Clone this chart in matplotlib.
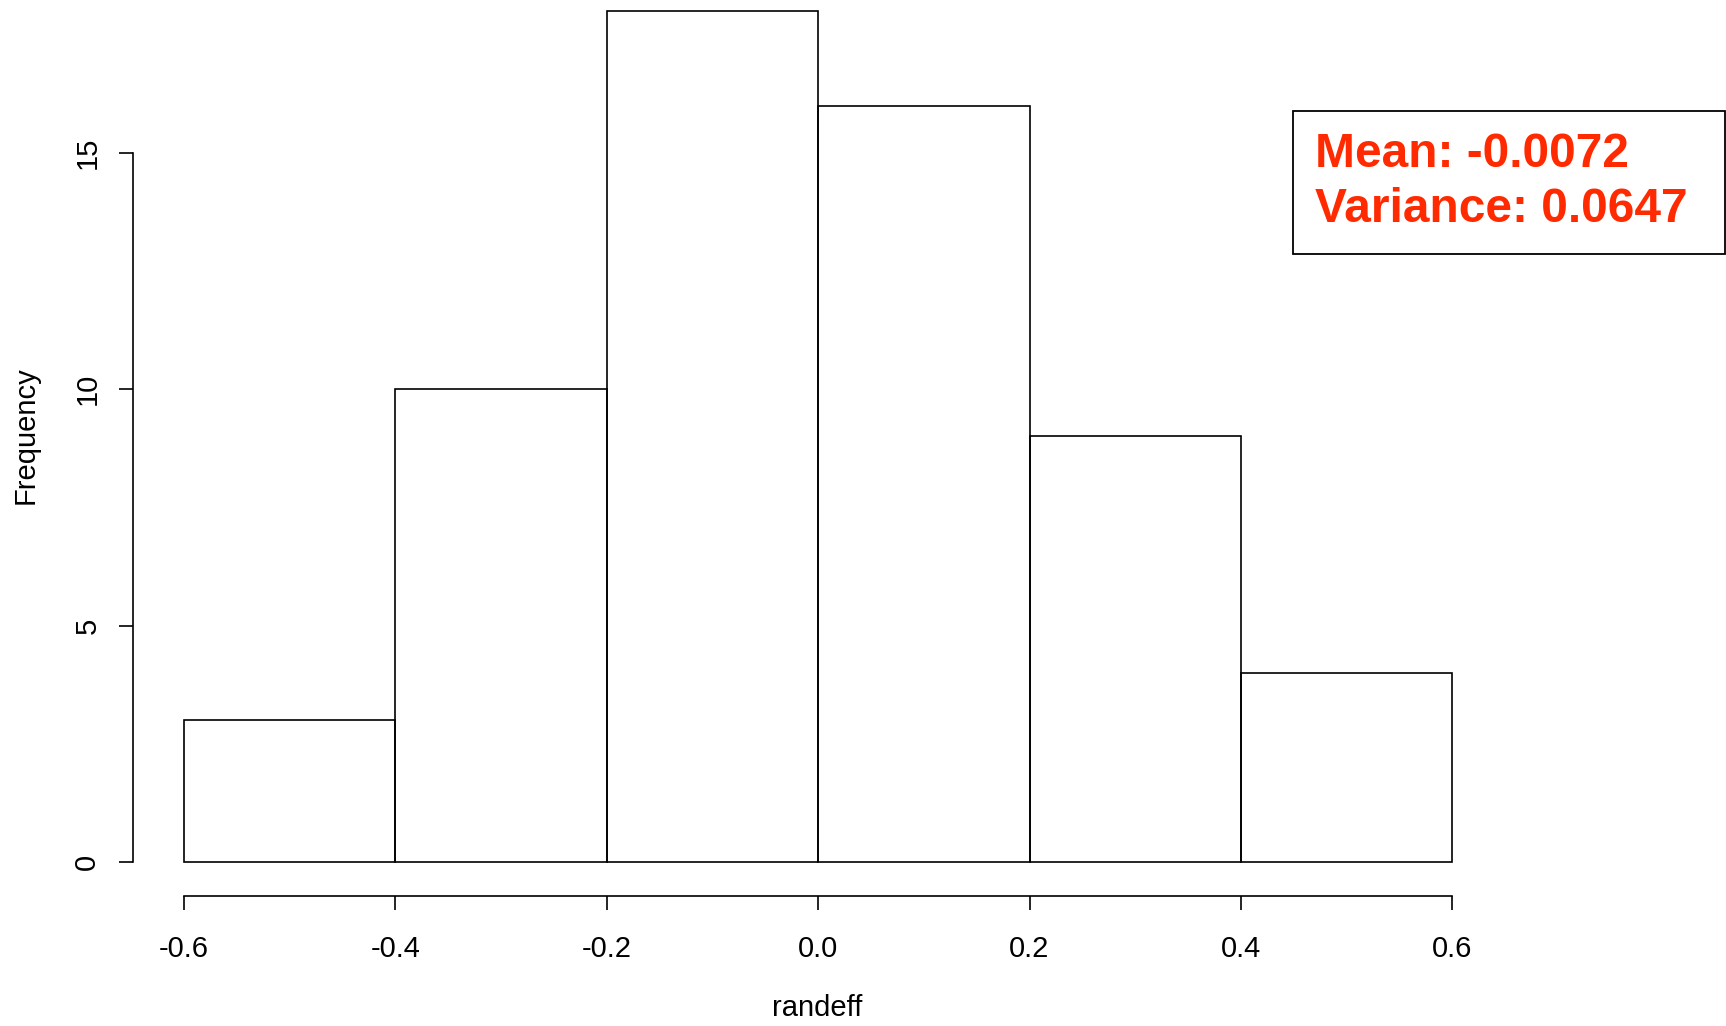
import matplotlib
matplotlib.use("Agg")
import matplotlib.pyplot as plt
from matplotlib.patches import Rectangle
import numpy as np

# histogram of randeff
bin_edges = [-0.6, -0.4, -0.2, 0.0, 0.2, 0.4, 0.6]
counts = [3, 10, 18, 16, 9, 4]
x_ticks = [-0.6, -0.4, -0.2, 0.0, 0.2, 0.4, 0.6]
x_tick_labels = ["-0.6", "-0.4", "-0.2", "0.0", "0.2", "0.4", "0.6"]
y_ticks = [0, 5, 10, 15]
stats_lines = ["Mean: -0.0072", "Variance: 0.0647"]

W, H = 1726, 1026
plt.rcParams["font.family"] = ["Liberation Sans", "DejaVu Sans"]

fig = plt.figure(figsize=(W / 100, H / 100), dpi=100)
fig.patch.set_facecolor("white")

# plot region in pixels (R style, 4% padding on each axis)
left_px, right_px = 133.3, 1503.0
bottom_px, top_px = 896.0, -23.0
ax = fig.add_axes([left_px / W, 1 - bottom_px / H,
                   (right_px - left_px) / W, (bottom_px - top_px) / H])

edges = np.array(bin_edges)
ax.bar(edges[:-1], counts, width=np.diff(edges), align="edge",
       fill=False, edgecolor="black", linewidth=1.2)

xr = edges[-1] - edges[0]
ax.set_xlim(edges[0] - 0.04 * xr, edges[-1] + 0.04 * xr)
ax.set_ylim(-0.04 * max(counts), max(counts) * 1.04)

for s in ["top", "right"]:
    ax.spines[s].set_visible(False)
ax.spines["left"].set_bounds(y_ticks[0], y_ticks[-1])
ax.spines["bottom"].set_bounds(x_ticks[0], x_ticks[-1])
for s in ["left", "bottom"]:
    ax.spines[s].set_linewidth(1.2)

ax.set_xticks(x_ticks)
ax.set_xticklabels(x_tick_labels)
ax.set_yticks(y_ticks)
ax.tick_params(axis="x", length=10, width=1.2, pad=18, labelsize=21)
ax.tick_params(axis="y", length=10, width=1.2, pad=13, labelsize=21)
plt.setp(ax.get_yticklabels(), rotation=90, va="center", ha="right")

fig.text(26 / W, 1 - 435 / H, "Frequency", rotation=90, ha="center",
         va="center", fontsize=21)
fig.text(817 / W, 1 - 1008 / H, "randeff", ha="center", va="center",
         fontsize=21)

# stats box
fig.patches.append(Rectangle((1293 / W, 1 - 254 / H), (1725 - 1293) / W,
                             (254 - 111) / H, transform=fig.transFigure,
                             fill=False, edgecolor="black", linewidth=1.3))
fig.text(1315 / W, 1 - 167 / H, stats_lines[0], ha="left", va="baseline",
         fontsize=34.5, fontweight="bold", color="#ff2a00")
fig.text(1315 / W, 1 - 222 / H, stats_lines[1], ha="left", va="baseline",
         fontsize=34.5, fontweight="bold", color="#ff2a00")

fig.savefig("out.png", dpi=100, facecolor="white")
